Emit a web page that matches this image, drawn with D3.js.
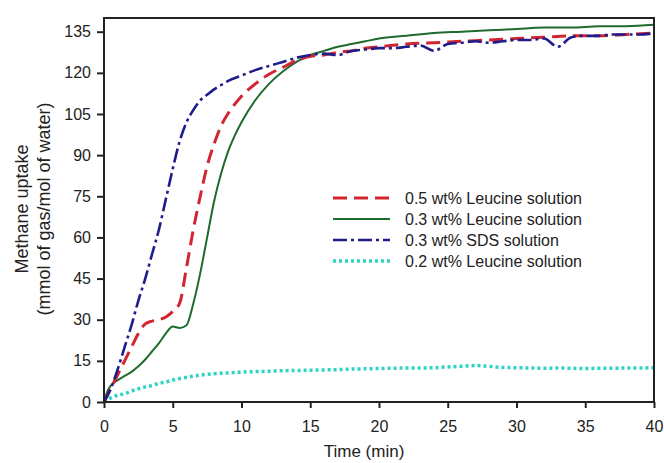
<!DOCTYPE html>
<html>

<head>
    <meta charset="utf-8">
    <script src="https://d3js.org/d3.v7.min.js"></script>
    <style>
    body { margin: 0; background: #fff; }
    text { font-family: Arial, "Liberation Sans", sans-serif; fill: #222; }
    </style>
</head>

<body>
    <script>
    // series data (time in min, uptake in mmol/mol)
    let seriesNames = ["0.5 wt% Leucine solution", "0.3 wt% Leucine solution",
                       "0.3 wt% SDS solution", "0.2 wt% Leucine solution"];

    let tRed = [0, 0.5, 1, 1.5, 2, 2.5, 3, 3.5, 4, 4.5, 5, 5.5, 6, 6.5, 7, 7.5, 8, 8.5, 9, 9.5, 10,
                11, 12, 13, 14, 15, 16, 17, 18, 19, 20, 22, 24, 26, 28, 30, 32, 34, 36, 38, 40];
    let vRed = [0, 5, 10, 15, 20, 25, 28.5, 29.5, 30, 31, 33, 36, 49, 63, 75, 86, 94, 100.5, 105, 108.5, 111.5,
                116, 119.5, 122, 124.5, 126, 126.5, 127.5, 128, 129, 129.5, 130.5, 131, 131.5, 132, 132.5, 133, 133.5, 133.5, 134, 134.5];

    let tGreen = [0, 0.25, 0.5, 1, 1.5, 2, 2.5, 3, 3.5, 4, 4.5, 5, 5.5, 6, 6.5, 7, 7.5, 8, 8.5, 9, 9.5, 10,
                  11, 12, 13, 14, 15, 16, 17, 18, 19, 20, 22, 24, 26, 28, 30, 32, 34, 36, 38, 40];
    let vGreen = [0, 4, 6, 8, 9.5, 11, 13, 15.5, 18.5, 21.5, 25, 27.5, 27, 28, 36, 47, 60, 73, 83, 91, 97, 102,
                  110, 116, 120.5, 124, 126.5, 128, 129.5, 130.5, 131.5, 132.5, 133.5, 134.5, 135, 135.5, 136, 136.5, 136.5, 137, 137, 137.5];

    let tBlue = [0, 0.5, 1, 1.5, 2, 2.5, 3, 3.5, 4, 4.5, 5, 5.5, 6, 6.5, 7, 7.5, 8, 8.5, 9, 10,
                 11, 12, 13, 14, 15, 16, 17, 18, 19, 20, 21, 22, 23, 24, 25, 26, 27, 28, 29, 30,
                 31, 32, 33, 34, 35, 36, 37, 38, 39, 40];
    let vBlue = [0, 5, 12, 20, 28, 37, 45, 54, 63, 74, 85, 95, 102, 106.5, 110, 112, 114, 115.5, 117, 119,
                 121, 122.5, 124, 125.5, 126.5, 127, 126.5, 128, 128.5, 129, 129, 129.5, 130, 128, 130.5, 131, 131.5, 131, 131.5, 132,
                 132, 132.5, 129.5, 133, 133.5, 133.5, 134, 134, 134, 134.5];

    let tCyan = [0, 0.5, 1, 1.5, 2, 2.5, 3, 3.5, 4, 4.5, 5, 5.5, 6, 6.5, 7, 8, 9, 10, 11, 12, 13, 14, 15,
                 16, 17, 18, 19, 20, 21, 22, 23, 24, 25, 26, 27, 28, 29, 30, 31, 32, 33, 34, 35, 36, 37, 38, 39, 40];
    let vCyan = [0, 1.5, 2.5, 3, 4, 4.8, 5.5, 6, 6.8, 7.3, 8, 8.6, 9, 9.4, 9.8, 10.3, 10.6, 10.9, 11.1, 11.2, 11.4, 11.5, 11.6,
                 11.7, 11.8, 12, 12.1, 12.2, 12.3, 12.4, 12.4, 12.5, 12.8, 13, 13.3, 13, 12.6, 12.5, 12.4, 12.3, 12.4, 12.3, 12.2, 12.3, 12.3, 12.4, 12.4, 12.5];

    let xTicks = [0, 5, 10, 15, 20, 25, 30, 35, 40];
    let yTicks = [0, 15, 30, 45, 60, 75, 90, 105, 120, 135];

    function draw() {
        let width = 664,
            height = 463;
        let left = 104, right = 654, top = 18, bottom = 402;

        let svg = d3.select("body")
            .append("svg")
            .attr("width", width)
            .attr("height", height);

        let x = d3.scaleLinear().domain([0, 40]).range([left, right]);
        let y = d3.scaleLinear().domain([0, 140]).range([bottom, top]);

        let series = [
            { name: seriesNames[0], t: tRed, v: vRed, color: "#d3252f", width: 3, dash: "14,7" },
            { name: seriesNames[1], t: tGreen, v: vGreen, color: "#1e6b2c", width: 2, dash: null },
            { name: seriesNames[2], t: tBlue, v: vBlue, color: "#1f1d8c", width: 2.6, dash: "14,4,3,4" },
            { name: seriesNames[3], t: tCyan, v: vCyan, color: "#2dd4c4", width: 3.5, dash: "3,3" }
        ];

        // axes
        let xAxis = svg.append("g")
            .attr("transform", "translate(0," + bottom + ")")
            .call(d3.axisBottom(x).tickValues(xTicks).tickSize(6).tickPadding(13));
        let yAxis = svg.append("g")
            .attr("transform", "translate(" + left + ",0)")
            .call(d3.axisLeft(y).tickValues(yTicks).tickSize(7).tickPadding(6));

        [xAxis, yAxis].forEach(function (a) {
            a.select(".domain").remove();
            a.selectAll("line").attr("stroke", "#222").attr("stroke-width", 2);
            a.selectAll("text").attr("font-size", "16px").attr("fill", "#222");
        });

        svg.append("clipPath").attr("id", "plot")
            .append("rect")
            .attr("x", left).attr("y", top)
            .attr("width", right - left).attr("height", bottom - top);

        let line = d3.line()
            .x(function (d) { return x(d[0]); })
            .y(function (d) { return y(d[1]); })
            .curve(d3.curveMonotoneX);

        // cyan first, the others on top
        let order = [3, 1, 0, 2];
        order.forEach(function (i) {
            let s = series[i];
            let pts = s.t.map(function (t, j) { return [t, s.v[j]]; });
            svg.append("path")
                .datum(pts)
                .attr("clip-path", "url(#plot)")
                .attr("d", line)
                .attr("fill", "none")
                .attr("stroke", s.color)
                .attr("stroke-width", s.width)
                .attr("stroke-dasharray", s.dash);
        });

        // frame
        svg.append("rect")
            .attr("x", left).attr("y", top)
            .attr("width", right - left).attr("height", bottom - top)
            .attr("fill", "none")
            .attr("stroke", "#222")
            .attr("stroke-width", 2);

        // axis titles
        svg.append("text")
            .text("Time (min)")
            .attr("x", (left + right) / 2 - 15)
            .attr("y", 457)
            .attr("font-size", "17px")
            .attr("text-anchor", "middle");

        let yl = [["Methane uptake", 22], ["(mmol of gas/mol of water)", 44]];
        svg.selectAll(".ylab")
            .data(yl)
            .enter()
            .append("text")
            .attr("class", "ylab")
            .text(function (d) { return d[0]; })
            .attr("transform", function (d) { return "translate(" + d[1] + ",209) rotate(-90)"; })
            .attr("dominant-baseline", "central")
            .attr("font-size", "18px")
            .attr("text-anchor", "middle");

        // legend
        let lg = svg.selectAll(".leg")
            .data(series)
            .enter()
            .append("g")
            .attr("class", "leg")
            .attr("transform", function (d, i) { return "translate(333," + (198 + i * 21) + ")"; });
        lg.append("line")
            .attr("x1", 0).attr("x2", 57)
            .attr("y1", 0).attr("y2", 0)
            .attr("stroke", function (d) { return d.color; })
            .attr("stroke-width", function (d) { return d.width; })
            .attr("stroke-dasharray", function (d) { return d.dash; });
        lg.append("text")
            .text(function (d) { return d.name; })
            .attr("x", 72)
            .attr("y", 0)
            .attr("dominant-baseline", "central")
            .attr("font-size", "16px");
    }

    draw();
    </script>
</body>
</html>
